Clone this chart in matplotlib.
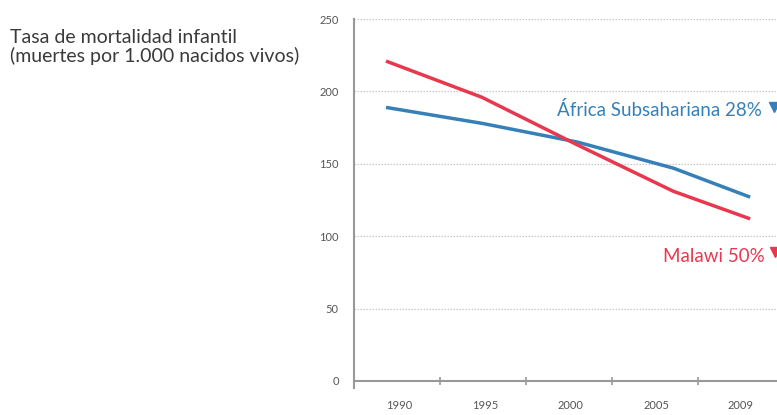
import matplotlib.pyplot as plt
import numpy as np

years = [1990, 1995, 2000, 2005, 2009]
malawi = [221, 196, 163, 131, 112]
africa = [189, 178, 165, 147, 127]
year_labels = ['1990', '1995', '2000', '2005', '2009']
label_pos = [1990.7, 1995.2, 1999.6, 2004.1, 2008.5]
bin_edges = [1992.8, 1997.3, 2001.8, 2006.3]
y_ticks = [0, 50, 100, 150, 200, 250]

blue = '#3580b8'
red = '#e8384f'
grey = '#555555'

plt.rcParams['font.family'] = ['Lato', 'DejaVu Sans']

fig = plt.figure(figsize=(7.77, 4.15), dpi=100)
ax = fig.add_axes([0.4556, 0.082, 0.5444, 0.872])

ax.plot(years, africa, color=blue, lw=2.5, solid_capstyle='butt')
ax.plot(years, malawi, color=red, lw=2.5, solid_capstyle='butt')

ax.set_xlim(1988.33, 2010.4)
ax.set_ylim(0, 250)
ax.set_yticks(y_ticks)
ax.set_yticklabels([str(v) for v in y_ticks], fontsize=8, color=grey)
ax.tick_params(axis='y', length=0, pad=11)
for v in y_ticks[1:]:
    ax.axhline(v, color='#c8c8c8', lw=0.9, ls=(0, (1.2, 1.2)), zorder=0)

ax.set_xticks(bin_edges)
ax.set_xticklabels([])
ax.tick_params(axis='x', length=6, width=1.2, color='#999999', direction='inout')
for p, t in zip(label_pos, year_labels):
    ax.text(p, -17, t, ha='center', va='center', fontsize=8, color=grey)

for s in ['top', 'right']:
    ax.spines[s].set_visible(False)
for s in ['left', 'bottom']:
    ax.spines[s].set_color('#999999')
    ax.spines[s].set_linewidth(1.5)
ax.spines['left'].set_bounds(-5, 250)

ax.text(2009.6, 187, 'África Subsahariana 28%', ha='right', va='center',
        fontsize=13.5, color=blue)
ax.plot([2010.25], [189], marker='v', color=blue, ms=7.5, clip_on=False)
ax.text(2009.75, 86, 'Malawi 50%', ha='right', va='center',
        fontsize=13.5, color=red)
ax.plot([2010.3], [89], marker='v', color=red, ms=7.5, clip_on=False)

fig.text(0.013, 0.93, 'Tasa de mortalidad infantil\n(muertes por 1.000 nacidos vivos)',
         ha='left', va='top', fontsize=14, color='#3a3a3a', linespacing=1.05)

fig.savefig('out.png', dpi=100)
